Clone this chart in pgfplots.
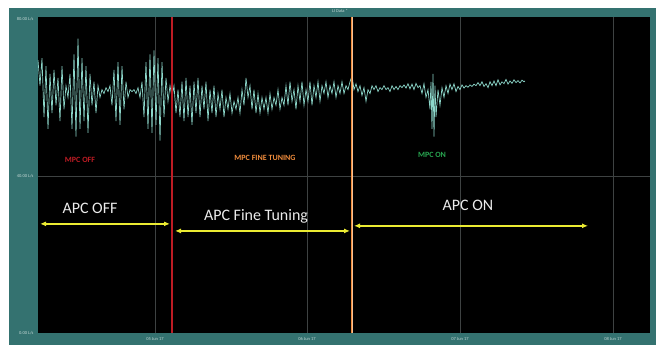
\documentclass[border=0pt]{standalone}
\usepackage{pgfplots}
\pgfplotsset{compat=1.18}
\usepackage{fontspec}
\setmainfont{Carlito}
\usetikzlibrary{arrows.meta}
\definecolor{frameteal}{RGB}{52,114,112}
\definecolor{trace}{RGB}{140,215,202}
\definecolor{gridgray}{RGB}{62,66,66}
\definecolor{lbl}{RGB}{195,215,212}
\definecolor{mred}{RGB}{190,28,36}
\definecolor{morange}{RGB}{240,140,60}
\definecolor{mgreen}{RGB}{40,165,80}
\definecolor{ayellow}{RGB}{235,235,50}
\pgfplotstableread{
x y
38 69.5
40 63
42 70
44 55
46 68
48 52
50 66
52 56
54 67
56 58
58 65
60 54
62 68
64 57
66 63
68 60
70 66
72 52
74 71
76 50
78 75
80 52
82 70
84 54
86 68
88 51
90 66
92 58
94 64
96 56
98 63
100 60
102 62
104 61
106 62.5
108 61.5
110 63
112 58
114 67
116 54
118 69
120 53
122 68
124 57
126 64
128 60
130 62
132 61.5
134 62
136 61
138 62.5
140 60
142 64
144 55
146 69
148 52
150 71
152 51
154 72
156 53
158 70
160 49
162 69
164 55
166 65
168 59
170 63
172 60
174 63
176 56
178 62
180 55
182 64
184 54
186 65
188 55
190 63
192 53
194 64
196 56
198 65
200 55
202 63
204 57
206 64
208 54
210 62
212 56
214 63
216 55
218 61
220 57
222 62
224 55
226 60
228 57
230 61
232 56
234 59
236 57
238 60
240 56
242 62
244 58
246 65
248 60
250 63
252 57
254 62
256 56
258 61
260 56
262 60
264 57
266 60
268 56
270 61
272 57
274 60
276 58
278 62
280 57
282 60
284 58
286 63
288 58
290 64
292 59
294 62
296 57
298 63
300 59
302 64
304 58
306 62
308 59
310 64
312 58
314 63
316 60
318 64
320 59
322 63
324 61
326 64
328 60
330 63
332 61
334 64
336 60
338 63
340 61
342 64
344 61
346 63
348 62
350 64
352 65.5
354 62
356 63.5
358 61.5
360 63
362 60.5
364 62.5
366 59
368 62
370 61
372 63
374 62
376 63
378 61.5
380 62.5
382 62
384 63
386 62
388 62.5
390 61.5
392 63
394 62
396 62.8
398 62
400 63
402 62.5
404 63.2
406 62.4
408 63.5
410 62.2
412 63.4
414 62
416 63.6
418 62.5
420 63
422 61
424 63.5
426 60
428 62
430 57
431 64
432 52
433 66
434 50
435 63
436 55
438 62
440 58
442 62.5
444 60
446 63
448 61
450 63.4
452 62
454 63.5
456 61.5
458 62.8
460 62
462 63.2
464 62.4
466 63
468 62.6
470 63.2
472 62.8
474 63.4
476 63
478 63.8
480 63
482 64
484 62.8
486 63.5
488 62.5
490 64
492 63
494 64.2
496 63
498 64.5
500 63.2
502 64
504 63.5
506 64.6
508 63.4
510 64.2
512 63.6
514 64.5
516 63.8
518 64.3
520 63.7
522 64.4
524 64
525 64.2
}\flowdata
\begin{document}
\begin{tikzpicture}
\fill[white] (0pt,0pt) rectangle (656pt,345pt);
\fill[frameteal] (9pt,0pt) rectangle (656pt,337pt);
\node[text=lbl,font=\fontsize{4.5}{5}\selectfont] at (340pt,334pt) {LI Data *};
\begin{axis}[
  at={(38pt,12pt)}, anchor=south west,
  scale only axis, width=612pt, height=316pt,
  xmin=38, xmax=650, ymin=0, ymax=80.5,
  axis background/.style={fill=black},
  axis line style={draw=none},
  major tick length=0pt,
  xtick={155,307,460,613},
  xticklabels={05 Jun 17,06 Jun 17,07 Jun 17,08 Jun 17},
  xmajorgrids, ymajorgrids,
  grid style={gridgray, line width=0.5pt},
  ytick={40}, yticklabels={40.00 L/s},
  extra y ticks={0,80}, extra y tick labels={0.00 L/s,80.00 L/s},
  extra y tick style={grid=none},
  tick label style={text=lbl, font=\fontsize{4.5}{5}\selectfont},
  yticklabel style={xshift=-1pt},
  xticklabel style={yshift=-1pt},
  clip=true,
]
\addplot[trace, line width=0.7pt] table[x=x,y=y] {\flowdata};
\draw[mred, line width=1.3pt] (axis cs:172,0) -- (axis cs:172,80.5);
\draw[morange, line width=2.2pt] (axis cs:352,0) -- (axis cs:352,80.5);
\draw[morange!55!white, line width=0.4pt] (axis cs:352,0) -- (axis cs:352,80.5);
\draw[ayellow, line width=1.6pt, {Latex[length=6pt,width=5pt]}-{Latex[length=6pt,width=5pt]}] (axis cs:40,27.8) -- (axis cs:170,27.8);
\draw[ayellow, line width=1.6pt, {Latex[length=6pt,width=5pt]}-{Latex[length=6pt,width=5pt]}] (axis cs:175,26.0) -- (axis cs:350,26.0);
\draw[ayellow, line width=1.6pt, {Latex[length=6pt,width=5pt]}-{Latex[length=6pt,width=5pt]}] (axis cs:354,27.3) -- (axis cs:588,27.3);
\node[text=white!92!black, font=\fontsize{16}{17}\selectfont] at (axis cs:90,31.8) {APC OFF};
\node[text=white!92!black, font=\fontsize{16}{17}\selectfont] at (axis cs:256,29.8) {APC Fine Tuning};
\node[text=white!92!black, font=\fontsize{16}{17}\selectfont] at (axis cs:468,32.4) {APC ON};
\node[text=mred, font=\bfseries\fontsize{8}{9}\selectfont] at (axis cs:80,44.1) {MPC OFF};
\node[text=morange, font=\bfseries\fontsize{8}{9}\selectfont] at (axis cs:265,44.6) {MPC FINE TUNING};
\node[text=mgreen, font=\bfseries\fontsize{8}{9}\selectfont] at (axis cs:432,45.3) {MPC ON};
\end{axis}
\end{tikzpicture}
\end{document}
